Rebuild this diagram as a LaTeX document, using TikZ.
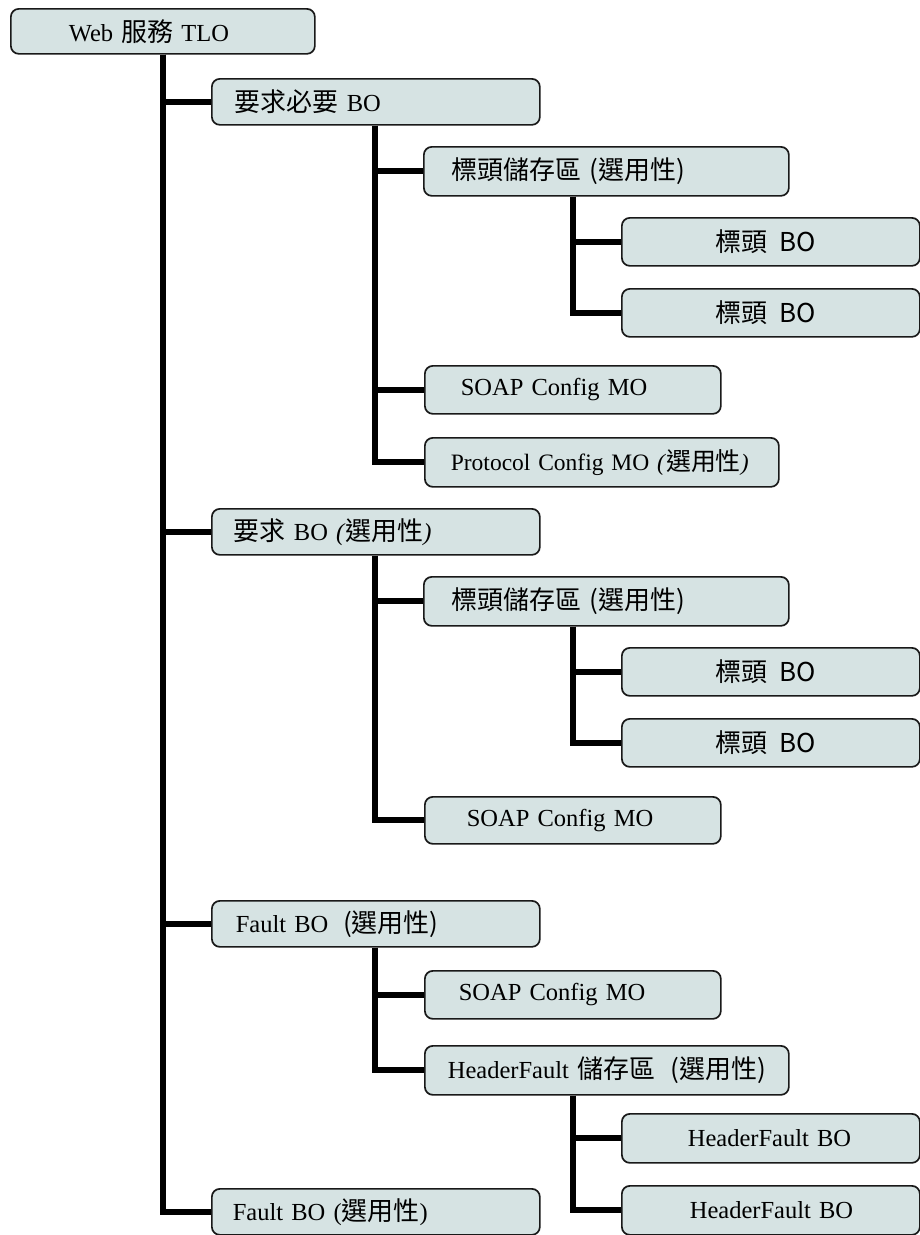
\documentclass[tikz,border=0pt]{standalone}
\usepackage{fontspec}
\setmainfont{Liberation Serif}
\newfontfamily\cjk[Scale=1.06]{Noto Sans CJK TC}
\definecolor{boxfill}{RGB}{214,227,227}
\definecolor{boxline}{RGB}{25,25,25}
\tikzset{
  box/.style={draw=boxline, fill=boxfill, line width=1.7pt, rounded corners=8pt,
    anchor=north west, align=left, inner ysep=0pt, font=\fontsize{24.5}{27}\selectfont},
  conn/.style={line width=6pt, black, line join=miter},
}
\begin{document}
\begin{tikzpicture}[x=1pt,y=-1pt]
\useasboundingbox (0,0) rectangle (920,1235);
% boxes: (x,y), minimum width W, height H, inner xsep p, text width W-2p
\node[box, minimum width=304pt, minimum height=45pt, inner xsep=58pt, text width=188pt] (tlo) at (10,8) {\mbox{Web {\cjk 服務} TLO}};
\node[box, minimum width=328pt, minimum height=46pt, inner xsep=23pt, text width=282pt] (rq) at (211,78) {\mbox{{\cjk 要求必要} BO}};
\node[box, minimum width=365pt, minimum height=49pt, inner xsep=28pt, text width=309pt] (hs1) at (423,146) {\mbox{\cjk 標頭儲存區 (選用性)}};
\node[box, minimum width=298pt, minimum height=48pt, inner xsep=94pt, text width=110pt] (h1a) at (621,217) {\mbox{\cjk 標頭\hspace{0.45em}BO}};
\node[box, minimum width=298pt, minimum height=48pt, inner xsep=94pt, text width=110pt] (h1b) at (621,288) {\mbox{\cjk 標頭\hspace{0.45em}BO}};
\node[box, minimum width=296pt, minimum height=48pt, inner xsep=36pt, text width=224pt] (soap1) at (424,365) {\mbox{SOAP Config MO}};
\node[box, minimum width=354pt, minimum height=49pt, inner xsep=26pt, text width=302pt, font=\fontsize{23.5}{26}\selectfont] (proto) at (424,437) {\mbox{Protocol Config MO \textit{(}{\cjk 選用性}\textit{)}}};
\node[box, minimum width=328pt, minimum height=46pt, inner xsep=22pt, text width=284pt] (rqo) at (211,508) {\mbox{{\cjk 要求} BO \textit{(}{\cjk 選用性}\textit{)}}};
\node[box, minimum width=365pt, minimum height=49pt, inner xsep=28pt, text width=309pt] (hs2) at (423,576) {\mbox{\cjk 標頭儲存區 (選用性)}};
\node[box, minimum width=298pt, minimum height=48pt, inner xsep=94pt, text width=110pt] (h2a) at (621,647) {\mbox{\cjk 標頭\hspace{0.45em}BO}};
\node[box, minimum width=298pt, minimum height=48pt, inner xsep=94pt, text width=110pt] (h2b) at (621,718) {\mbox{\cjk 標頭\hspace{0.45em}BO}};
\node[box, minimum width=296pt, minimum height=47pt, inner xsep=42pt, text width=212pt] (soap2) at (424,796) {\mbox{SOAP Config MO}};
\node[box, minimum width=328pt, minimum height=46pt, inner xsep=24pt, text width=280pt] (flt) at (211,900) {\mbox{Fault BO\hspace{0.6em}{\cjk (選用性)}}};
\node[box, minimum width=296pt, minimum height=48pt, inner xsep=34pt, text width=228pt] (soap3) at (424,970) {\mbox{SOAP Config MO}};
\node[box, minimum width=364pt, minimum height=49pt, inner xsep=23pt, text width=318pt] (hfs) at (424,1045) {\mbox{HeaderFault {\cjk 儲存區\hspace{0.6em}(選用性)}}};
\node[box, minimum width=298pt, minimum height=49pt, inner xsep=66pt, text width=166pt] (hfa) at (621,1113) {\mbox{HeaderFault BO}};
\node[box, minimum width=298pt, minimum height=49pt, inner xsep=68pt, text width=162pt] (hfb) at (621,1185) {\mbox{HeaderFault BO}};
\node[box, minimum width=328pt, minimum height=46pt, inner xsep=21pt, text width=286pt] (flt2) at (211,1188) {\mbox{Fault BO ({\cjk 選用性})}};
% trunk coordinates
\coordinate (t1) at (163,0);
\coordinate (t2) at (375,0);
\coordinate (t3) at (573,0);
% level 1
\foreach \c in {rq,rqo,flt,flt2} \draw[conn] (t1 |- tlo.south) |- (\c.west);
% level 2
\foreach \c in {hs1,soap1,proto} \draw[conn] (t2 |- rq.south) |- (\c.west);
\foreach \c in {hs2,soap2} \draw[conn] (t2 |- rqo.south) |- (\c.west);
\foreach \c in {soap3,hfs} \draw[conn] (t2 |- flt.south) |- (\c.west);
% level 3
\foreach \c in {h1a,h1b} \draw[conn] (t3 |- hs1.south) |- (\c.west);
\foreach \c in {h2a,h2b} \draw[conn] (t3 |- hs2.south) |- (\c.west);
\foreach \c in {hfa,hfb} \draw[conn] (t3 |- hfs.south) |- (\c.west);
\end{tikzpicture}
\end{document}
